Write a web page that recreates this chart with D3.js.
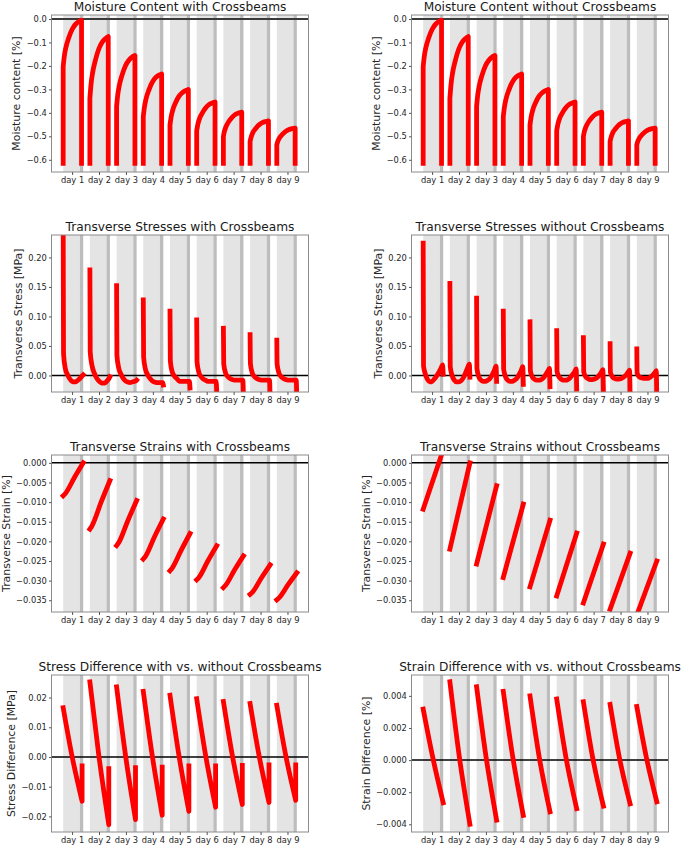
<!DOCTYPE html>
<html><head><meta charset="utf-8">
<script src="https://cdn.jsdelivr.net/npm/d3@7"></script>
<style>
body{margin:0;background:#fff}
text{font-family:"DejaVu Sans",sans-serif}
</style>
</head><body>
<svg id="c" width="685" height="847"></svg>
<script>
// ---------- data ----------
const days = ["day 1","day 2","day 3","day 4","day 5","day 6","day 7","day 8","day 9"];
const dayStartHours = [0,24,48,72,96,120,144,168,192];
const tickHours = [8,32.2,56.4,80.6,104.8,129,153.2,177.4,201.6];
const lightSpan = [0,15];
const darkSpan = [15,18];

// Moisture content [%]
const moistHours = [0,1,2.5,5,8,11,14,16.5];
const moistBase = -0.615;
const moistureWith = [
 [-0.203,-0.159,-0.120,-0.080,-0.045,-0.023,-0.011,-0.005],
 [-0.338,-0.280,-0.228,-0.175,-0.128,-0.099,-0.083,-0.075],
 [-0.373,-0.325,-0.282,-0.238,-0.199,-0.176,-0.162,-0.156],
 [-0.416,-0.376,-0.340,-0.303,-0.270,-0.250,-0.239,-0.234],
 [-0.451,-0.418,-0.388,-0.357,-0.330,-0.314,-0.305,-0.300],
 [-0.477,-0.450,-0.425,-0.401,-0.379,-0.365,-0.358,-0.354],
 [-0.500,-0.477,-0.457,-0.436,-0.418,-0.406,-0.400,-0.397],
 [-0.521,-0.502,-0.484,-0.467,-0.451,-0.442,-0.437,-0.434],
 [-0.536,-0.520,-0.506,-0.492,-0.479,-0.471,-0.467,-0.465]];
const moistureWithout = [
 [-0.203,-0.159,-0.120,-0.080,-0.045,-0.023,-0.011,-0.005],
 [-0.338,-0.280,-0.228,-0.175,-0.128,-0.099,-0.083,-0.075],
 [-0.373,-0.325,-0.282,-0.238,-0.199,-0.176,-0.162,-0.156],
 [-0.416,-0.376,-0.340,-0.303,-0.270,-0.250,-0.239,-0.234],
 [-0.451,-0.418,-0.388,-0.357,-0.330,-0.314,-0.305,-0.300],
 [-0.477,-0.450,-0.425,-0.401,-0.379,-0.365,-0.358,-0.354],
 [-0.500,-0.477,-0.457,-0.436,-0.418,-0.406,-0.400,-0.397],
 [-0.521,-0.502,-0.484,-0.467,-0.451,-0.442,-0.437,-0.434],
 [-0.536,-0.520,-0.506,-0.492,-0.479,-0.471,-0.467,-0.465]];

// Transverse stress [MPa]
const stressHours = [0,0.3,2,4,6,8,10,12,14,16,17.5,18];
const stressWith = [
 [0.260,0.037,0.011,0.001,-0.006,-0.010,-0.011,-0.010,-0.007,-0.003,0.000,0.001],
 [0.179,0.040,0.016,0.004,-0.004,-0.009,-0.012,-0.013,-0.012,-0.008,-0.004,-0.002],
 [0.152,0.034,0.012,0.002,-0.005,-0.009,-0.011,-0.012,-0.011,-0.010,-0.009,-0.008],
 [0.128,0.031,0.010,0.001,-0.005,-0.009,-0.011,-0.012,-0.012,-0.012,-0.012,-0.016],
 [0.109,0.025,0.006,-0.001,-0.005,-0.009,-0.010,-0.010,-0.010,-0.010,-0.010,-0.021],
 [0.094,0.023,0.005,-0.002,-0.006,-0.008,-0.010,-0.010,-0.010,-0.010,-0.010,-0.026],
 [0.080,0.020,0.004,-0.002,-0.005,-0.007,-0.008,-0.008,-0.008,-0.008,-0.008,-0.035],
 [0.069,0.020,0.004,-0.002,-0.005,-0.007,-0.008,-0.008,-0.008,-0.008,-0.008,-0.040],
 [0.060,0.019,0.004,-0.002,-0.005,-0.007,-0.008,-0.008,-0.008,-0.008,-0.008,-0.045]];
const stressWithout = [
 [0.224,0.016,0.002,-0.007,-0.011,-0.010,-0.006,-0.001,0.005,0.012,0.018,0.002],
 [0.156,0.015,0.000,-0.008,-0.011,-0.011,-0.009,-0.004,0.004,0.013,0.019,-0.003],
 [0.131,0.012,-0.002,-0.008,-0.010,-0.010,-0.008,-0.005,0.001,0.009,0.016,-0.010],
 [0.109,0.011,-0.002,-0.008,-0.010,-0.010,-0.008,-0.005,0.001,0.008,0.015,-0.015],
 [0.091,0.008,-0.002,-0.006,-0.008,-0.008,-0.007,-0.004,0.001,0.007,0.012,-0.019],
 [0.076,0.007,-0.002,-0.006,-0.008,-0.008,-0.007,-0.004,0.001,0.006,0.011,-0.023],
 [0.064,0.006,-0.002,-0.005,-0.007,-0.007,-0.006,-0.004,0.000,0.005,0.010,-0.026],
 [0.054,0.005,-0.002,-0.005,-0.006,-0.006,-0.005,-0.003,0.000,0.005,0.009,-0.035],
 [0.045,0.004,-0.002,-0.004,-0.005,-0.005,-0.005,-0.003,0.000,0.004,0.008,-0.040]];

// Transverse strain [%]
const strainWithHours = [0,2,10,18];
const strainWith = [
 [-0.0084,-0.0078,-0.0038,0.0000],
 [-0.0169,-0.0160,-0.0101,-0.0045],
 [-0.0211,-0.0203,-0.0148,-0.0096],
 [-0.0245,-0.0238,-0.0189,-0.0143],
 [-0.0275,-0.0268,-0.0223,-0.0180],
 [-0.0298,-0.0292,-0.0250,-0.0211],
 [-0.0318,-0.0312,-0.0273,-0.0237],
 [-0.0335,-0.0330,-0.0294,-0.0260],
 [-0.0349,-0.0344,-0.0311,-0.0280]];
const strainWithoutHours = [0,18];
const strainWithout = [
 [-0.0118,0.0033],
 [-0.0220,0.0000],
 [-0.0258,-0.0058],
 [-0.0292,-0.0105],
 [-0.0316,-0.0146],
 [-0.0339,-0.0179],
 [-0.0357,-0.0207],
 [-0.0373,-0.0230],
 [-0.0388,-0.0250]];

// Differences with vs. without
const stressDiffHours = [0,8,17];
const stressDiff = [
 [0.0166,0.0002,-0.0149],
 [0.0253,0.0006,-0.0228],
 [0.0236,0.0006,-0.0211],
 [0.0221,0.0006,-0.0196],
 [0.0208,0.0006,-0.0183],
 [0.0196,0.0006,-0.0169],
 [0.0187,0.0006,-0.0160],
 [0.0180,0.0006,-0.0153],
 [0.0174,0.0006,-0.0146]];
const stressDiffEnd = [-0.0030,-0.0039,-0.0036,-0.0034,-0.0030,-0.0030,-0.0028,-0.0027,-0.0027];
const strainDiffHours = [0,8.5,18];
const strainDiff = [
 [0.00318,0.0002,-0.00266],
 [0.00488,0.0002,-0.00400],
 [0.00457,0.0002,-0.00374],
 [0.00428,0.0002,-0.00345],
 [0.00400,0.0001,-0.00322],
 [0.00380,0.0001,-0.00303],
 [0.00363,0.0001,-0.00287],
 [0.00347,0.0001,-0.00272],
 [0.00334,0.0002,-0.00260]];

// axis ticks
const moistTicks = [0,-0.1,-0.2,-0.3,-0.4,-0.5,-0.6];
const stressTicks = [0,0.05,0.10,0.15,0.20];
const strainTicks = [0,-0.005,-0.010,-0.015,-0.020,-0.025,-0.030,-0.035];
const stressDiffTicks = [-0.02,-0.01,0,0.01,0.02];
const strainDiffTicks = [-0.004,-0.002,0,0.002,0.004];

// ---------- drawing ----------
const svg = d3.select("#c");
const AXW = 257, AXH = 157;
const colX = [51.5, 411.5];
const rowY = [15, 235, 455, 675];
const xDomain = [-10.5, 220.5];

function drawPanel(col, row, spec){
  const left = colX[col], top = rowY[row];
  const x = d3.scaleLinear().domain(xDomain).range([left, left + AXW]);
  const y = d3.scaleLinear().domain(spec.yDomain).range([top + AXH, top]);
  const clipId = "clip" + col + row;
  svg.append("clipPath").attr("id", clipId).append("rect")
    .attr("x", left).attr("y", top).attr("width", AXW).attr("height", AXH);
  const g = svg.append("g");
  // shaded day bands
  g.selectAll("rect.lb").data(dayStartHours).join("rect").attr("class","lb")
    .attr("x", d => x(d + lightSpan[0])).attr("width", d => x(d + lightSpan[1]) - x(d + lightSpan[0]))
    .attr("y", top).attr("height", AXH).attr("fill", "#e4e4e4");
  g.selectAll("rect.db").data(dayStartHours).join("rect").attr("class","db")
    .attr("x", d => x(d + darkSpan[0])).attr("width", d => x(d + darkSpan[1]) - x(d + darkSpan[0]))
    .attr("y", top).attr("height", AXH).attr("fill", "#bdbdbd");
  // zero line
  g.append("line").attr("x1", left).attr("x2", left + AXW)
    .attr("y1", y(0)).attr("y2", y(0))
    .attr("stroke", spec.zeroColor || "#000").attr("stroke-width", spec.zeroWidth || 1.5);
  // series
  const line = d3.line().x(d => x(d[0])).y(d => y(d[1])).curve(spec.curve || d3.curveLinear);
  const lg = g.append("g").attr("clip-path", `url(#${clipId})`);
  spec.values.forEach((vals, i) => {
    const pts = spec.hours.map((h, j) => [dayStartHours[i] + h, vals[j]]);
    let d = line(pts);
    const xFirst = x(pts[0][0]), xLast = x(pts[pts.length - 1][0]);
    if (spec.pre !== undefined) d = `M${xFirst},${y(spec.pre)}` + d.replace(/^M/, "L");
    if (spec.post !== undefined) {
      const pv = Array.isArray(spec.post) ? spec.post[i] : spec.post;
      d += `L${xLast},${y(pv)}`;
    }
    lg.append("path").attr("d", d).attr("fill", "none").attr("stroke", "#ff0000")
      .attr("stroke-width", 4.8).attr("stroke-linejoin", "round").attr("stroke-linecap", "square");
  });
  // spines
  g.append("rect").attr("x", left).attr("y", top).attr("width", AXW).attr("height", AXH)
    .attr("fill", "none").attr("stroke", "#8c8c8c").attr("stroke-width", 1);
  // x axis
  const xa = g.append("g").attr("transform", `translate(0,${top + AXH})`)
    .call(d3.axisBottom(x).tickValues(tickHours).tickFormat((d, i) => days[i]).tickSize(3).tickPadding(2.6));
  // y axis
  const ya = g.append("g").attr("transform", `translate(${left},0)`)
    .call(d3.axisLeft(y).tickValues(spec.yTicks).tickFormat(d3.format(spec.fmt)).tickSize(2.5).tickPadding(2.2));
  [xa, ya].forEach(a => {
    a.select(".domain").remove();
    a.selectAll("line").attr("stroke", "#555");
    a.selectAll("text").attr("fill", "#262626").style("font-size", "8.3px").style("font-family", "DejaVu Sans");
  });
  // title
  g.append("text").attr("x", left + AXW / 2).attr("y", top - 4.5).attr("text-anchor", "middle")
    .attr("fill", "#1a1a1a").style("font-size", "12.2px").text(spec.title);
  // y label (left of the tick labels)
  const bb = ya.node().getBBox();
  g.append("text").attr("transform", `translate(${left + bb.x - 6.3},${top + AXH / 2}) rotate(-90)`)
    .attr("text-anchor", "middle").attr("fill", "#262626").style("font-size", "10.9px").text(spec.ylabel);
}

drawPanel(0, 0, {title: "Moisture Content with Crossbeams", ylabel: "Moisture content [%]",
  yDomain: [-0.652, 0.017], yTicks: moistTicks, fmt: ".1f", hours: moistHours, values: moistureWith,
  pre: moistBase, post: moistBase, curve: d3.curveMonotoneX, zeroColor: "#3a3a3a", zeroWidth: 2});
drawPanel(1, 0, {title: "Moisture Content without Crossbeams", ylabel: "Moisture content [%]",
  yDomain: [-0.652, 0.017], yTicks: moistTicks, fmt: ".1f", hours: moistHours, values: moistureWithout,
  pre: moistBase, post: moistBase, curve: d3.curveMonotoneX, zeroColor: "#3a3a3a", zeroWidth: 2});
drawPanel(0, 1, {title: "Transverse Stresses with Crossbeams", ylabel: "Transverse Stress [MPa]",
  yDomain: [-0.028, 0.238], yTicks: stressTicks, fmt: ".2f", hours: stressHours, values: stressWith,
  curve: d3.curveMonotoneX});
drawPanel(1, 1, {title: "Transverse Stresses without Crossbeams", ylabel: "Transverse Stress [MPa]",
  yDomain: [-0.028, 0.238], yTicks: stressTicks, fmt: ".2f", hours: stressHours, values: stressWithout,
  curve: d3.curveMonotoneX});
drawPanel(0, 2, {title: "Transverse Strains with Crossbeams", ylabel: "Transverse Strain [%]",
  yDomain: [-0.038, 0.002], yTicks: strainTicks, fmt: ".3f", hours: strainWithHours, values: strainWith,
  curve: d3.curveMonotoneX});
drawPanel(1, 2, {title: "Transverse Strains without Crossbeams", ylabel: "Transverse Strain [%]",
  yDomain: [-0.038, 0.002], yTicks: strainTicks, fmt: ".3f", hours: strainWithoutHours, values: strainWithout});
drawPanel(0, 3, {title: "Stress Difference with vs. without Crossbeams", ylabel: "Stress Difference [MPa]",
  yDomain: [-0.02525, 0.0276], yTicks: stressDiffTicks, fmt: ".2f", hours: stressDiffHours, values: stressDiff,
  post: stressDiffEnd, curve: d3.curveMonotoneX});
drawPanel(1, 3, {title: "Strain Difference with vs. without Crossbeams", ylabel: "Strain Difference [%]",
  yDomain: [-0.00448, 0.0053], yTicks: strainDiffTicks, fmt: ".3f", hours: strainDiffHours, values: strainDiff,
  curve: d3.curveMonotoneX});
</script>
</body></html>
